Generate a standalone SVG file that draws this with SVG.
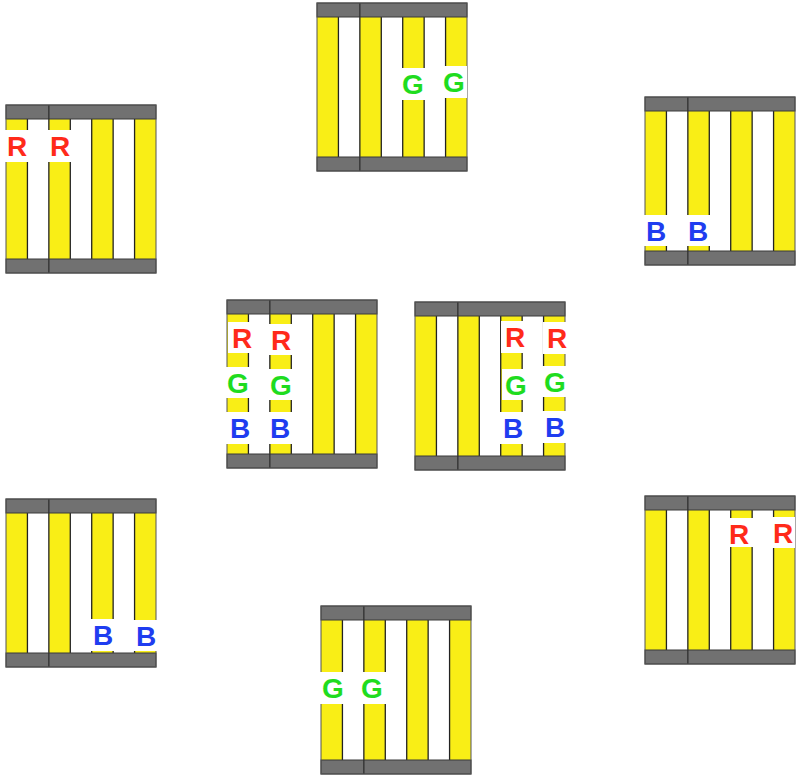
<svg xmlns="http://www.w3.org/2000/svg" xmlns:xlink="http://www.w3.org/1999/xlink" width="797" height="778" viewBox="0 0 797 778">
<style>
.bg{fill:#ffffff}
.ys{fill:#f9ee16}
.sl{stroke:#222;stroke-width:1.3}
.bar{fill:#717171;stroke:#3a3a3a;stroke-width:1}
.dv{stroke:#2a2a2a;stroke-width:1.2}
.frame{fill:none;stroke:#555;stroke-width:1}
.lb{fill:#ffffff}
.t{font-family:"Liberation Sans",Arial,sans-serif;font-weight:bold;font-size:28px;text-anchor:middle}
.r{fill:#ff2a1a}
.g{fill:#1fdc1f}
.b{fill:#1f3df0}
</style>
<defs>
<g id="cage">
<rect class="bg" x="0" y="0" width="150" height="168"/>
<rect class="ys" x="0" y="14" width="21.43" height="140"/>
<rect class="ys" x="42.86" y="14" width="21.43" height="140"/>
<rect class="ys" x="85.71" y="14" width="21.43" height="140"/>
<rect class="ys" x="128.57" y="14" width="21.43" height="140"/>
<line class="sl" x1="21.43" y1="14" x2="21.43" y2="154"/>
<line class="sl" x1="42.86" y1="14" x2="42.86" y2="154"/>
<line class="sl" x1="64.29" y1="14" x2="64.29" y2="154"/>
<line class="sl" x1="85.71" y1="14" x2="85.71" y2="154"/>
<line class="sl" x1="107.14" y1="14" x2="107.14" y2="154"/>
<line class="sl" x1="128.57" y1="14" x2="128.57" y2="154"/>
<rect class="bar" x="0" y="0" width="150" height="14"/>
<rect class="bar" x="0" y="154" width="150" height="14"/>
<line class="dv" x1="42.86" y1="0" x2="42.86" y2="14"/>
<line class="dv" x1="42.86" y1="154" x2="42.86" y2="168"/>
<rect class="frame" x="0" y="0" width="150" height="168"/>
</g>
</defs>
<g id="connectors"/>
<g id="cage-top-left" transform="translate(6,105)">
<use xlink:href="#cage"/>
<rect class="lb" x="-3" y="25" width="28" height="32"/><text class="t r" x="11" y="51">R</text>
<rect class="lb" x="40" y="25" width="28" height="32"/><text class="t r" x="54" y="51">R</text>
</g>
<g id="cage-top" transform="translate(317,3)">
<use xlink:href="#cage"/>
<rect class="lb" x="82" y="65" width="28" height="32"/><text class="t g" x="96" y="91">G</text>
<rect class="lb" x="124" y="63" width="26" height="32"/><text class="t g" x="137" y="89">G</text>
</g>
<g id="cage-top-right" transform="translate(645,97)">
<use xlink:href="#cage"/>
<rect class="lb" x="-3" y="118" width="28" height="31"/><text class="t b" x="11" y="144">B</text>
<rect class="lb" x="39" y="118" width="28" height="31"/><text class="t b" x="53" y="144">B</text>
</g>
<g id="cage-center-left" transform="translate(227,300)">
<use xlink:href="#cage"/>
<rect class="lb" x="1" y="22" width="28" height="31"/><text class="t r" x="15" y="48">R</text>
<rect class="lb" x="40" y="24" width="28" height="31"/><text class="t r" x="54" y="50">R</text>
<rect class="lb" x="-3" y="67" width="28" height="31"/><text class="t g" x="11" y="93">G</text>
<rect class="lb" x="40" y="69" width="28" height="31"/><text class="t g" x="54" y="95">G</text>
<rect class="lb" x="-1" y="112" width="28" height="32"/><text class="t b" x="13" y="138">B</text>
<rect class="lb" x="39" y="112" width="28" height="32"/><text class="t b" x="53" y="138">B</text>
</g>
<g id="cage-center-right" transform="translate(415,302)">
<use xlink:href="#cage"/>
<rect class="lb" x="86" y="19" width="28" height="32"/><text class="t r" x="100" y="45">R</text>
<rect class="lb" x="128" y="20" width="24" height="32"/><text class="t r" x="142" y="46">R</text>
<rect class="lb" x="87" y="67" width="28" height="31"/><text class="t g" x="101" y="93">G</text>
<rect class="lb" x="126" y="64" width="26" height="31"/><text class="t g" x="140" y="90">G</text>
<rect class="lb" x="84" y="110" width="28" height="32"/><text class="t b" x="98" y="136">B</text>
<rect class="lb" x="126" y="109" width="26" height="32"/><text class="t b" x="140" y="135">B</text>
</g>
<g id="cage-bottom-left" transform="translate(6,499)">
<use xlink:href="#cage"/>
<rect class="lb" x="83" y="120" width="28" height="32"/><text class="t b" x="97" y="146">B</text>
<rect class="lb" x="126" y="121" width="28" height="31"/><text class="t b" x="140" y="147">B</text>
</g>
<g id="cage-bottom" transform="translate(321,606)">
<use xlink:href="#cage"/>
<rect class="lb" x="-3" y="66" width="29" height="32"/><text class="t g" x="12" y="92">G</text>
<rect class="lb" x="37" y="66" width="28" height="32"/><text class="t g" x="51" y="92">G</text>
</g>
<g id="cage-bottom-right" transform="translate(645,496)">
<use xlink:href="#cage"/>
<rect class="lb" x="80" y="22" width="28" height="29"/><text class="t r" x="94" y="48">R</text>
<rect class="lb" x="124" y="21" width="26" height="31"/><text class="t r" x="138" y="47">R</text>
</g>
</svg>
